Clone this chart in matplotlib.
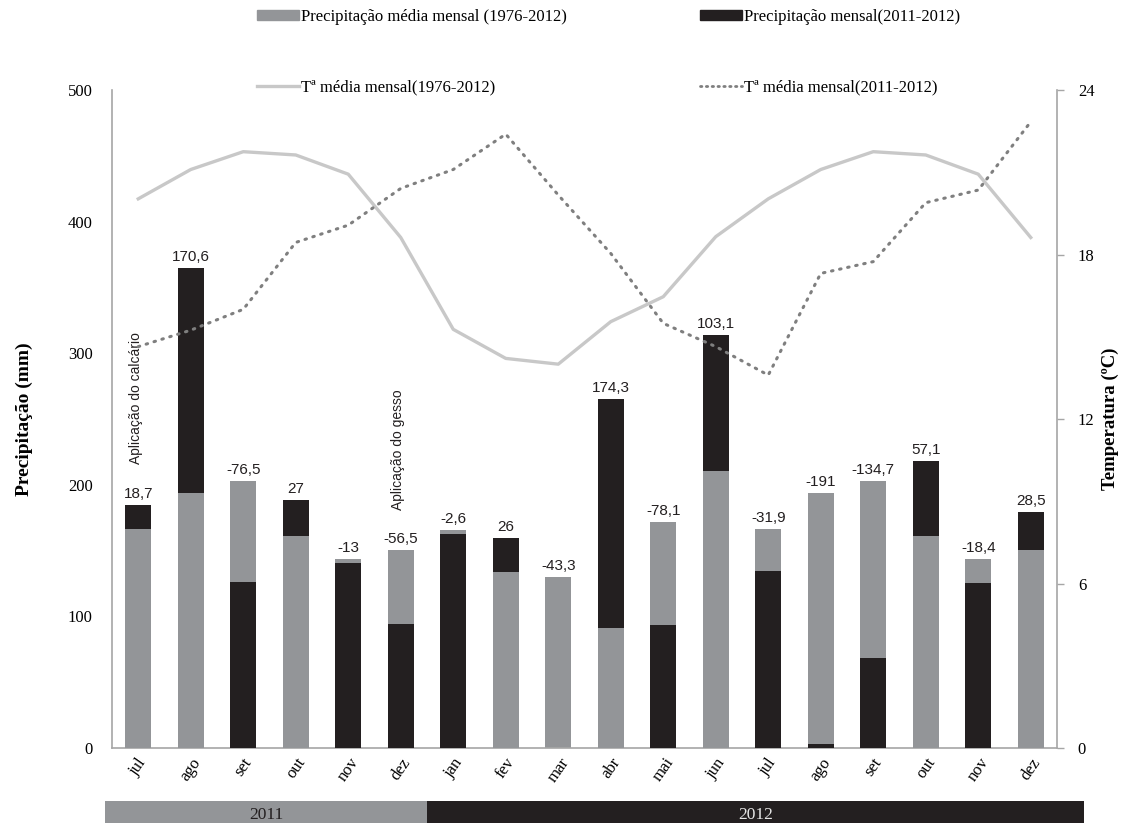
import matplotlib
matplotlib.use("Agg")
import matplotlib.pyplot as plt
import matplotlib.transforms as mtransforms
from matplotlib.patches import Rectangle, Patch
from matplotlib.lines import Line2D

SERIF = "Liberation Serif"
SANS = "Liberation Sans"

# ── Data ──────────────────────────────────────────────────────────────────
months = ["jul", "ago", "set", "out", "nov", "dez", "jan", "fev", "mar",
          "abr", "mai", "jun", "jul", "ago", "set", "out", "nov", "dez"]
years = ["2011", "2012"]
months_per_year = [6, 12]

# precipitation (mm)
precip_avg = [166.2, 193.9, 202.8, 161.2, 143.6, 150.5, 165.5, 133.6, 129.9,
              91.0, 171.6, 210.7, 166.2, 193.9, 202.8, 161.2, 143.6, 150.5]
precip_month = [184.9, 364.5, 126.3, 188.2, 140.6, 94.0, 162.9, 159.6, 0.0,
                265.3, 93.5, 313.8, 134.3, 2.9, 68.1, 218.3, 125.2, 179.0]
precip_diff = [18.7, 170.6, -76.5, 27, -13, -56.5, -2.6, 26, -43.3,
               174.3, -78.1, 103.1, -31.9, -191, -134.7, 57.1, -18.4, 28.5]

# temperature (ºC)
temp_avg = [20.03, 21.10, 21.75, 21.63, 20.93, 18.62, 15.27, 14.21, 14.00,
            15.55, 16.46, 18.65, 20.03, 21.10, 21.75, 21.63, 20.93, 18.62]
temp_month = [14.64, 15.24, 16.00, 18.44, 19.07, 20.41, 21.10, 22.39, 20.17,
              18.04, 15.49, 14.64, 13.60, 17.31, 17.74, 19.89, 20.35, 22.84]

# field operations: (month index, label, label base in mm)
events = [(0, "Aplicação do calcário", 216), (5, "Aplicação do gesso", 181)]

GRAY = "#939598"
BLACK = "#231f20"
AXIS = "#a6a6a6"

fig = plt.figure(figsize=(11.25, 8.23), dpi=100)
ax = fig.add_axes([112 / 1125, 1 - 748 / 823, 945 / 1125, 658 / 823])
x = list(range(len(months)))

# ── Bars: taller one behind, shorter one in front ─────────────────────────
gray_bars = ax.bar(x, precip_avg, width=0.5, color=GRAY, linewidth=0)
black_bars = ax.bar(x, precip_month, width=0.5, color=BLACK, linewidth=0)
for g, b, va, vb in zip(gray_bars, black_bars, precip_avg, precip_month):
    g.set_zorder(3 if va <= vb else 2)
    b.set_zorder(3 if vb < va else 2)

for i, d in enumerate(precip_diff):
    top = max(precip_avg[i], precip_month[i])
    ax.annotate(f"{d:g}".replace(".", ","), (i, top), xytext=(0, 3),
                textcoords="offset points", ha="center", va="bottom",
                fontsize=11, family=SANS, color="#231f20", zorder=4)

for i, text, base in events:
    ax.text(i - 0.05, base, text, rotation=90, ha="center", va="bottom",
            fontsize=10, family=SANS, color="#231f20", zorder=4)

ax.set_xlim(-0.5, len(months) - 0.5)
ax.set_ylim(0, 500)
ax.set_yticks(range(0, 501, 100))
ax.set_xticks(x)
ax.set_xticklabels(months, rotation=55, ha="center", va="top",
                   family=SERIF, fontsize=12)
ax.tick_params(axis="x", length=0, pad=5)
ax.tick_params(axis="y", length=0, pad=14, labelsize=12)
for lbl in ax.get_yticklabels():
    lbl.set_family(SERIF)
ax.set_ylabel("Precipitação (mm)", family=SERIF, fontsize=14,
              fontweight="bold")
ax.yaxis.set_label_coords(-0.084, 0.5)
for side in ("top", "right"):
    ax.spines[side].set_visible(False)
for side in ("left", "bottom"):
    ax.spines[side].set_color(AXIS)
    ax.spines[side].set_linewidth(1.2)

# ── Temperature lines on secondary axis ───────────────────────────────────
ax2 = ax.twinx()
ax2.plot(x, temp_avg, color="#c8c8c8", linewidth=2.4, solid_joinstyle="round")
ax2.plot(x, temp_month, color="#7f7f7f", linewidth=2.2,
         linestyle=(0, (0.5, 2.2)), dash_capstyle="round")
ax2.set_ylim(0, 24)
ax2.set_yticks(range(0, 25, 6))
ax2.tick_params(axis="y", length=5, width=1, color=AXIS, pad=10,
                labelsize=12)
for lbl in ax2.get_yticklabels():
    lbl.set_family(SERIF)
ax2.set_ylabel("Temperatura (ºC)", family=SERIF, fontsize=13.5,
               fontweight="bold")
ax2.yaxis.set_label_coords(1.047, 0.5)
for side in ("top", "left", "bottom"):
    ax2.spines[side].set_visible(False)
ax2.spines["right"].set_color(AXIS)
ax2.spines["right"].set_linewidth(1.2)

# ── Legend (two rows, two columns) ────────────────────────────────────────
handles = [
    (Patch(color=GRAY), "Precipitação média mensal (1976-2012)", 257, 17),
    (Patch(color=BLACK), "Precipitação mensal(2011-2012)", 700, 17),
    (Line2D([], [], color="#c8c8c8", linewidth=2.4),
     "Tª média mensal(1976-2012)", 257, 87),
    (Line2D([], [], color="#7f7f7f", linewidth=2.0,
            linestyle=(0, (0.5, 1.6)), dash_capstyle="round"),
     "Tª média mensal(2011-2012)", 700, 87),
]
for h, label, px, py in handles:
    fig.legend([h], [label], loc="center left",
               bbox_to_anchor=(px / 1125, 1 - py / 823), frameon=False,
               borderpad=0, borderaxespad=0, handlelength=2.5,
               handleheight=0.55, handletextpad=0.15,
               prop={"family": SERIF, "size": 12})

# ── Year band under the month labels ──────────────────────────────────────
band = mtransforms.blended_transform_factory(ax.transData, fig.transFigure)
edges = [-0.633]
for n in months_per_year:
    edges.append(edges[-1] + n if len(edges) > 1 else n - 0.5)
edges[-1] += 0.51
for k, yr in enumerate(years):
    left, right = edges[k], edges[k + 1]
    face = GRAY if k == 0 else BLACK
    fig.add_artist(Rectangle((left, 0), right - left, 22 / 823,
                             transform=band, facecolor=face,
                             edgecolor="none", clip_on=False))
    fig.text((left + right) / 2, 8 / 823, yr, transform=band,
             ha="center", va="center", family=SERIF, fontsize=12.5,
             color="#231f20" if k == 0 else "#e6e6e6")

fig.savefig("out.png", dpi=100)
